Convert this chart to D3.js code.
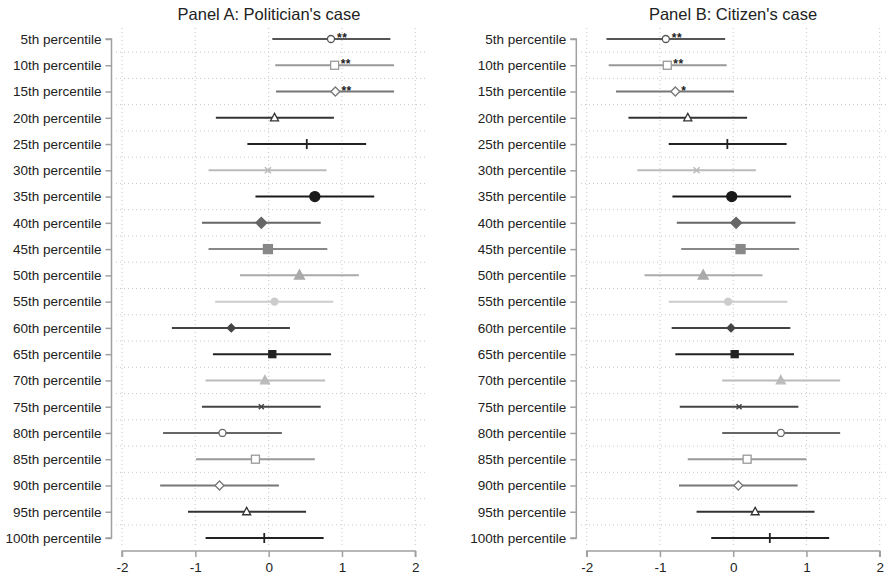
<!DOCTYPE html>
<html>
<head>
<meta charset="utf-8">
<script src="https://cdn.jsdelivr.net/npm/d3@7"></script>
<style>
  body { margin: 0; background: #fff; }
  text { font-family: "Liberation Sans", Arial, sans-serif; }
</style>
</head>
<body>
<div id="chart"></div>
<script>
// rows
const labels = ['5th', '10th', '15th', '20th', '25th', '30th', '35th', '40th', '45th', '50th',
  '55th', '60th', '65th', '70th', '75th', '80th', '85th', '90th', '95th', '100th'].map(d => d + ' percentile')

// Panel A: point estimate, lower, upper
const polEst = [0.85, 0.90, 0.91, 0.08, 0.52, -0.01, 0.63, -0.10, -0.01, 0.42,
  0.08, -0.51, 0.05, -0.05, -0.10, -0.63, -0.18, -0.67, -0.30, -0.06]
const polLo = [0.05, 0.09, 0.10, -0.72, -0.29, -0.82, -0.18, -0.91, -0.82, -0.39,
  -0.73, -1.32, -0.76, -0.86, -0.91, -1.44, -0.99, -1.48, -1.10, -0.86]
const polHi = [1.66, 1.71, 1.71, 0.89, 1.33, 0.79, 1.44, 0.71, 0.80, 1.23,
  0.88, 0.29, 0.85, 0.77, 0.71, 0.18, 0.63, 0.14, 0.51, 0.75]
const polStars = ['**', '**', '**', '', '', '', '', '', '', '', '', '', '', '', '', '', '', '', '', '']

// Panel B
const citEst = [-0.92, -0.90, -0.79, -0.62, -0.08, -0.50, -0.02, 0.04, 0.10, -0.41,
  -0.07, -0.03, 0.02, 0.65, 0.08, 0.65, 0.19, 0.07, 0.30, 0.50]
const citLo = [-1.73, -1.70, -1.60, -1.43, -0.88, -1.31, -0.83, -0.77, -0.71, -1.21,
  -0.88, -0.84, -0.79, -0.15, -0.73, -0.15, -0.62, -0.74, -0.50, -0.30]
const citHi = [-0.11, -0.09, 0.01, 0.19, 0.73, 0.31, 0.79, 0.85, 0.90, 0.40,
  0.74, 0.78, 0.83, 1.46, 0.89, 1.46, 1.00, 0.88, 1.11, 1.31]
const citStars = ['**', '**', '*', '', '', '', '', '', '', '', '', '', '', '', '', '', '', '', '', '']

const xTicks = [-2, -1, 0, 1, 2]

// marker style per row
const shapes = ['oh', 'sh', 'dh', 'th', 'plus', 'x', 'o', 'd', 's', 't',
  'o', 'd', 's', 't', 'x', 'oh', 'sh', 'dh', 'th', 'plus']
const sizes = [3.5, 4, 4.5, 4, 5, 3, 5, 5.5, 4.5, 5, 3.5, 4, 3.5, 4.5, 2.5, 3.5, 4, 4.5, 4, 5]
const colors = ['#555', '#999', '#777', '#333', '#222', '#bbb', '#1a1a1a', '#666', '#888', '#aaa',
  '#ccc', '#444', '#222', '#bbb', '#444', '#666', '#999', '#777', '#333', '#222']

const W = 888
const H = 580
const svg = d3.select('#chart').append('svg').attr('width', W).attr('height', H)

const y = d3.scalePoint().domain(d3.range(labels.length)).range([39, 538])
const step = y.step()

function marker (g, shape, r, c) {
  const filled = ['o', 'd', 's', 't'].includes(shape)
  const fill = filled ? c : '#fff'
  const sw = 1.3
  if (shape === 'o' || shape === 'oh') {
    g.append('circle').attr('r', r).attr('fill', fill).attr('stroke', c).attr('stroke-width', sw)
  } else if (shape === 's' || shape === 'sh') {
    g.append('rect').attr('x', -r).attr('y', -r).attr('width', 2 * r).attr('height', 2 * r)
      .attr('fill', fill).attr('stroke', c).attr('stroke-width', sw)
  } else if (shape === 'd' || shape === 'dh') {
    g.append('path').attr('d', `M0,${-r}L${r},0L0,${r}L${-r},0Z`)
      .attr('fill', fill).attr('stroke', c).attr('stroke-width', sw)
  } else if (shape === 't' || shape === 'th') {
    g.append('path').attr('d', `M0,${-r * 1.1}L${r},${r * 0.75}L${-r},${r * 0.75}Z`)
      .attr('fill', fill).attr('stroke', c).attr('stroke-width', sw)
  } else if (shape === 'plus') {
    g.append('path').attr('d', `M0,${-r}V${r}`).attr('stroke', c).attr('stroke-width', 1.8)
  } else if (shape === 'x') {
    g.append('path').attr('d', `M${-r},${-r}L${r},${r}M${-r},${r}L${r},${-r}`)
      .attr('stroke', c).attr('stroke-width', 1.5)
  }
}

function panel (opt) {
  const x = d3.scaleLinear().domain([-2, 2]).range([opt.x0, opt.x1])
  const g = svg.append('g')

  // grid
  g.append('g').selectAll('line').data(xTicks).join('line')
    .attr('x1', d => x(d)).attr('x2', d => x(d))
    .attr('y1', 28).attr('y2', 548)
    .attr('stroke', '#c8c8c8').attr('stroke-dasharray', '1,3')
  g.append('g').selectAll('line').data(d3.range(labels.length - 1)).join('line')
    .attr('x1', opt.g0).attr('x2', opt.g1)
    .attr('y1', d => y(d) + step / 2).attr('y2', d => y(d) + step / 2)
    .attr('stroke', '#c8c8c8').attr('stroke-dasharray', '1,3')

  // x axis
  const xa = g.append('g').attr('transform', 'translate(0,551)')
    .call(d3.axisBottom(x).tickValues(xTicks).tickSize(6).tickPadding(5).tickFormat(d3.format('d')))
  xa.select('.domain').attr('stroke', '#a0a0a0').attr('stroke-width', 1.5)
    .attr('d', `M${x(-2)},6V0H${x(2)}V6`)
  xa.selectAll('.tick line').attr('stroke', '#a0a0a0').attr('stroke-width', 1.5)
  xa.selectAll('.tick text').attr('font-size', 13.5).attr('fill', '#222')
    .attr('font-family', '"Liberation Sans", Arial, sans-serif')
    .text(d => d < 0 ? '-' + Math.abs(d) : d)

  // y axis
  const ya = g.append('g').attr('transform', `translate(${opt.ax},0)`)
    .call(d3.axisLeft(y).tickSize(6).tickPadding(4).tickFormat(i => labels[i]))
  ya.select('.domain').attr('stroke', '#a0a0a0').attr('stroke-width', 1.5)
    .attr('d', `M-6,${y(0)}H0V${y(19)}H-6`)
  ya.selectAll('.tick line').attr('stroke', '#a0a0a0').attr('stroke-width', 1.5)
  ya.selectAll('.tick text').attr('font-size', 13.5).attr('fill', '#222')
    .attr('font-family', '"Liberation Sans", Arial, sans-serif')

  // CIs + markers
  const rows = g.append('g').selectAll('g').data(d3.range(labels.length)).join('g')
  rows.append('line')
    .attr('x1', i => x(opt.lo[i])).attr('x2', i => x(opt.hi[i]))
    .attr('y1', i => y(i)).attr('y2', i => y(i))
    .attr('stroke', i => colors[i]).attr('stroke-width', 2)
  rows.each(function (i) {
    const m = d3.select(this).append('g').attr('transform', `translate(${x(opt.est[i])},${y(i)})`)
    marker(m, shapes[i], sizes[i], colors[i])
  })
  rows.append('text')
    .attr('x', i => x(opt.est[i]) + 6).attr('y', i => y(i) + 3)
    .attr('font-size', 12).attr('font-weight', 'bold').attr('fill', '#222')
    .attr('letter-spacing', 0.5)
    .text(i => opt.stars[i])

  // title
  svg.append('text').attr('x', opt.tx).attr('y', 20).attr('text-anchor', 'middle')
    .attr('font-size', 16.5).attr('fill', '#222').text(opt.title)
}

panel({ x0: 122, x1: 415.3, g0: 116, g1: 425, ax: 111.5, tx: 269, est: polEst, lo: polLo, hi: polHi, stars: polStars, title: "Panel A: Politician's case" })
panel({ x0: 586.7, x1: 879.7, g0: 581, g1: 888, ax: 576.3, tx: 733, est: citEst, lo: citLo, hi: citHi, stars: citStars, title: "Panel B: Citizen's case" })
</script>
</body>
</html>
